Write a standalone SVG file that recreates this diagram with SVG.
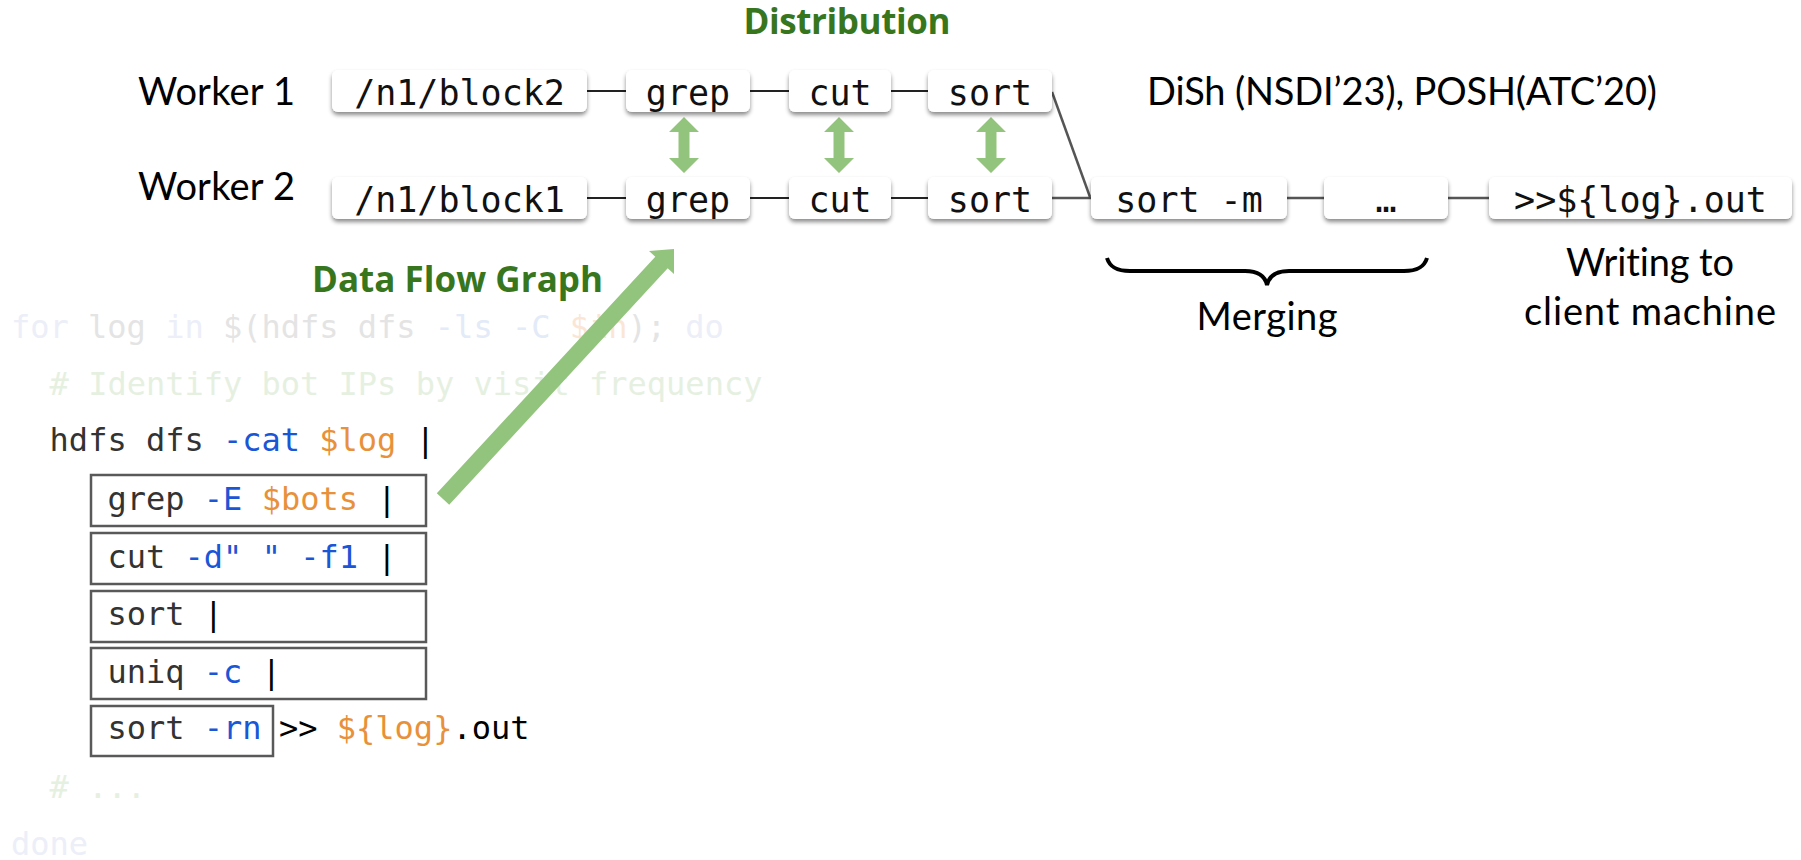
<svg xmlns="http://www.w3.org/2000/svg" width="1801" height="860" viewBox="0 0 1801 860">
  <defs>
    <filter id="shadow" x="-10%" y="-30%" width="120%" height="170%">
      <feDropShadow dx="0" dy="3" stdDeviation="2" flood-color="#000" flood-opacity="0.45"/>
    </filter>
    <style>
      .node rect { fill: #fff; filter: url(#shadow); }
      .node text { font-family: "DejaVu Sans Mono", "Liberation Mono", monospace; font-size: 35px; fill: #111; text-anchor: middle; }
      .label { font-family: Lato, "Open Sans", "Liberation Sans", sans-serif; font-size: 38px; fill: #000; font-variant-ligatures: none; }
      .title { font-family: "Open Sans", Lato, "Liberation Sans", sans-serif; font-size: 35px; font-weight: bold; fill: #38761d; font-variant-ligatures: none; }
      .code { font-family: "DejaVu Sans Mono", "Liberation Mono", monospace; font-size: 32px; fill: #333; }
      .cbox { fill: none; stroke: #595959; stroke-width: 2.5; }
      .kw { fill: #1a56d6; }
      .var { fill: #e8913a; }
      .pipe { fill: #000; }
      .f-kw { fill: #eceef8; }
      .f-txt { fill: #e4e4e4; }
      .f-flag { fill: #e3eaf8; }
      .f-var { fill: #fbe6d6; }
      .f-cmt { fill: #e6f0e1; }
      .link { stroke: #222; stroke-width: 2; fill: none; }
      .link2 { stroke: #555; stroke-width: 2.5; fill: none; }
      .swap { fill: #93c47d; }
    </style>
  </defs>

  <!-- headings and notes -->
  <text class="title" x="847" y="34" text-anchor="middle" textLength="207">Distribution</text>
  <text class="title" x="312" y="292" textLength="291">Data Flow Graph</text>
  <text class="label" x="138" y="105" textLength="157">Worker 1</text>
  <text class="label" x="138" y="200" textLength="157">Worker 2</text>
  <text class="label" x="1147" y="105" textLength="510">DiSh (NSDI’23), POSH(ATC’20)</text>
  <text class="label" x="1267" y="330" text-anchor="middle" textLength="141">Merging</text>
  <text class="label" x="1650" y="276" text-anchor="middle" textLength="168">Writing to</text>
  <text class="label" x="1650" y="325" text-anchor="middle" textLength="252">client machine</text>

  <!-- brace under the merge stage -->
  <path d="M1107,258 C1110,268 1118,271 1130,271 L1245,271 C1258,271 1265,276 1267,285 C1269,276 1276,271 1289,271 L1404,271 C1416,271 1424,268 1427,258" fill="none" stroke="#000" stroke-width="4"/>

  <!-- shell script -->
  <g id="script">
    <text class="code" x="11" y="338"><tspan class="f-kw">for</tspan><tspan class="f-txt"> log </tspan><tspan class="f-kw">in</tspan><tspan class="f-txt"> $(hdfs dfs </tspan><tspan class="f-flag">-ls -C </tspan><tspan class="f-var">$in</tspan><tspan class="f-txt">); </tspan><tspan class="f-kw">do</tspan></text>
    <text class="code" x="49.6" y="395"><tspan class="f-cmt"># Identify bot IPs by visit frequency</tspan></text>
    <text class="code" x="49.6" y="451">hdfs dfs <tspan class="kw">-cat</tspan> <tspan class="var">$log</tspan> <tspan class="pipe">|</tspan></text>

    <rect class="cbox" x="91" y="475" width="335" height="51"/>
    <rect class="cbox" x="91" y="533" width="335" height="51"/>
    <rect class="cbox" x="91" y="591" width="335" height="51"/>
    <rect class="cbox" x="91" y="648" width="335" height="51"/>
    <rect class="cbox" x="91" y="706" width="182" height="50"/>

    <text class="code" x="107.5" y="510">grep <tspan class="kw">-E</tspan> <tspan class="var">$bots</tspan> <tspan class="pipe">|</tspan></text>
    <text class="code" x="107.5" y="568">cut <tspan class="kw">-d" " -f1</tspan> <tspan class="pipe">|</tspan></text>
    <text class="code" x="107.5" y="625">sort <tspan class="pipe">|</tspan></text>
    <text class="code" x="107.5" y="683">uniq <tspan class="kw">-c</tspan> <tspan class="pipe">|</tspan></text>
    <text class="code" x="107.5" y="739">sort <tspan class="kw">-rn</tspan></text>
    <text class="code" x="279" y="739"><tspan class="pipe">&gt;&gt;</tspan> <tspan class="var">${log}</tspan><tspan class="pipe">.out</tspan></text>

    <text class="code" x="49.6" y="798"><tspan class="f-cmt"># ...</tspan></text>
    <text class="code" x="11" y="855"><tspan class="f-kw">done</tspan></text>
  </g>

  <!-- connectors -->
  <g id="connectors">
    <line class="link" x1="587" y1="91" x2="626" y2="91"/>
    <line class="link" x1="750" y1="91" x2="789" y2="91"/>
    <line class="link" x1="891" y1="91" x2="928" y2="91"/>
    <line class="link" x1="587" y1="198" x2="626" y2="198"/>
    <line class="link" x1="750" y1="198" x2="789" y2="198"/>
    <line class="link" x1="891" y1="198" x2="928" y2="198"/>
    <line class="link2" x1="1052" y1="92" x2="1090" y2="197"/>
    <line class="link2" x1="1052" y1="198" x2="1091" y2="198"/>
    <line class="link2" x1="1287" y1="198" x2="1324" y2="198"/>
    <line class="link2" x1="1448" y1="198" x2="1489" y2="198"/>

    <!-- exchange between the two workers -->
    <polygon class="swap" points="684,117 699,132 689.5,132 689.5,158 699,158 684,173 669,158 678.5,158 678.5,132 669,132"/>
    <polygon class="swap" points="839,117 854,132 844.5,132 844.5,158 854,158 839,173 824,158 833.5,158 833.5,132 824,132"/>
    <polygon class="swap" points="991,117 1006,132 996.5,132 996.5,158 1006,158 991,173 976,158 985.5,158 985.5,132 976,132"/>

    <!-- script to graph -->
    <polygon class="swap" points="436.8,493.2 655.3,256.7 649,251 674,249 674,274 667.7,268.3 449.2,504.8"/>
  </g>

  <!-- worker 1 -->
  <g id="w1-block" class="node"><rect x="332" y="70" width="255" height="42" rx="6"/><text x="459.5" y="105">/n1/block2</text></g>
  <g id="w1-grep" class="node"><rect x="626" y="70" width="124" height="42" rx="6"/><text x="688" y="105">grep</text></g>
  <g id="w1-cut" class="node"><rect x="789" y="70" width="102" height="42" rx="6"/><text x="840" y="105">cut</text></g>
  <g id="w1-sort" class="node"><rect x="928" y="70" width="124" height="42" rx="6"/><text x="990" y="105">sort</text></g>

  <!-- worker 2 -->
  <g id="w2-block" class="node"><rect x="332" y="177" width="255" height="42" rx="6"/><text x="459.5" y="212">/n1/block1</text></g>
  <g id="w2-grep" class="node"><rect x="626" y="177" width="124" height="42" rx="6"/><text x="688" y="212">grep</text></g>
  <g id="w2-cut" class="node"><rect x="789" y="177" width="102" height="42" rx="6"/><text x="840" y="212">cut</text></g>
  <g id="w2-sort" class="node"><rect x="928" y="177" width="124" height="42" rx="6"/><text x="990" y="212">sort</text></g>

  <!-- merge and output -->
  <g id="merge-sort" class="node"><rect x="1091" y="177" width="196" height="42" rx="6"/><text x="1189" y="212">sort -m</text></g>
  <g id="merge-more" class="node"><rect x="1324" y="177" width="124" height="42" rx="6"/><text x="1386" y="212">…</text></g>
  <g id="output" class="node"><rect x="1489" y="177" width="303" height="42" rx="6"/><text x="1640.5" y="212">&gt;&gt;${log}.out</text></g>
</svg>
